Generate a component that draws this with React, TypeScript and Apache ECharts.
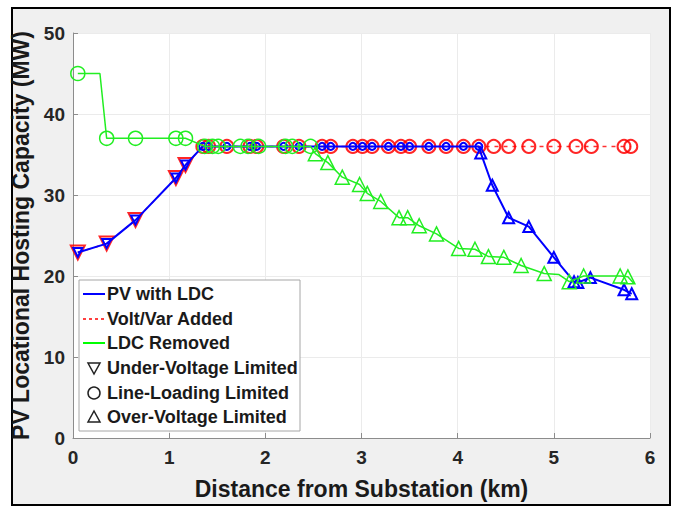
import React, { useEffect, useRef } from "react";
import * as echarts from "echarts";

// ---- Data ----
// Limit codes: U = Under-Voltage, L = Line-Loading, O = Over-Voltage, N = line vertex only
const blueX = [0.05, 0.35, 0.65, 1.07, 1.17, 1.35, 1.41, 1.60, 1.84, 1.91, 2.19, 2.35, 2.59, 2.68, 2.91, 3.01, 3.11, 3.28, 3.41, 3.50, 3.70, 3.88, 4.06, 4.22, 4.24, 4.36, 4.53, 4.74, 5.00, 5.21, 5.25, 5.38, 5.73, 5.81];
const blueY = [22.9, 24.0, 26.9, 32.1, 33.7, 36, 36, 36, 36, 36, 36, 36, 36, 36, 36, 36, 36, 36, 36, 36, 36, 36, 36, 36, 35.2, 31.2, 27.2, 26.1, 22.3, 19.3, 19.2, 19.8, 18.3, 17.8];
const blueLim = ["U", "U", "U", "U", "U", "L", "L", "L", "L", "L", "L", "L", "L", "L", "L", "L", "L", "L", "L", "L", "L", "L", "L", "L", "O", "O", "O", "O", "O", "O", "O", "O", "O", "O"];

const redX = [0.05, 0.35, 0.65, 1.07, 1.17, 1.35, 1.41, 1.60, 1.84, 1.91, 2.19, 2.35, 2.59, 2.68, 2.91, 3.01, 3.11, 3.28, 3.41, 3.50, 3.70, 3.88, 4.06, 4.22, 4.375, 4.53, 4.74, 5.00, 5.23, 5.39, 5.73, 5.80];
const redY = [22.9, 24.0, 26.9, 32.1, 33.7, 36, 36, 36, 36, 36, 36, 36, 36, 36, 36, 36, 36, 36, 36, 36, 36, 36, 36, 36, 36, 36, 36, 36, 36, 36, 36, 36];
const redLim = ["U", "U", "U", "U", "U", "L", "L", "L", "L", "L", "L", "L", "L", "L", "L", "L", "L", "L", "L", "L", "L", "L", "L", "L", "L", "L", "L", "L", "L", "L", "L", "L"];

const greenX = [0.05, 0.28, 0.35, 0.65, 1.07, 1.17, 1.37, 1.45, 1.51, 1.74, 1.82, 1.93, 2.21, 2.28, 2.47, 2.52, 2.65, 2.80, 2.98, 3.06, 3.20, 3.39, 3.48, 3.60, 3.78, 4.01, 4.18, 4.32, 4.48, 4.66, 4.90, 5.05, 5.16, 5.31, 5.69, 5.77, 5.83];
const greenY = [45, 45, 37, 37, 37, 37, 36, 36, 36, 36, 36, 36, 36, 36, 36, 35.1, 34.0, 32.2, 31.3, 30.2, 29.2, 27.2, 27.2, 26.2, 25.2, 23.4, 23.3, 22.4, 22.3, 21.3, 20.3, 20.2, 19.3, 20.0, 20.0, 19.9, 19.1];
const greenLim = ["L", "N", "L", "L", "L", "L", "L", "L", "L", "L", "L", "L", "L", "L", "L", "O", "O", "O", "O", "O", "O", "O", "O", "O", "O", "O", "O", "O", "O", "O", "O", "N", "O", "O", "O", "O", "N"];

const xTicks = [0, 1, 2, 3, 4, 5, 6];
const yTicks = [0, 10, 20, 30, 40, 50];

const legendLines = ["PV with LDC", "Volt/Var Added", "LDC Removed"];
const legendMarkers = ["Under-Voltage Limited", "Line-Loading Limited", "Over-Voltage Limited"];

const FONT = "'Liberation Sans', Arial, Helvetica, sans-serif";

function buildData(xs: number[], ys: number[], lims: string[], color: string, sizes: Record<string, number>, width: number) {
  return xs.map((x, i) => {
    const l = lims[i];
    const item: any = { value: [x, ys[i]] };
    if (l === "N") {
      item.symbol = "none";
    } else if (l === "U") {
      item.symbol = "triangle";
      item.symbolRotate = 180;
      item.symbolSize = sizes.U;
    } else if (l === "L") {
      item.symbol = "circle";
      item.symbolSize = sizes.L;
    } else {
      item.symbol = "triangle";
      item.symbolSize = sizes.O;
    }
    item.itemStyle = { color: "rgba(255,255,255,0)", borderColor: color, borderWidth: width };
    return item;
  });
}

export default function App() {
  const ref = useRef<HTMLDivElement>(null);
  useEffect(() => {
    document.body.style.margin = "0";
    if (!ref.current) return;
    const chart = echarts.init(ref.current, null, { renderer: "svg" });

    const rowY = [294, 319, 343, 368, 393, 417];
    const legendChildren: any[] = [
      { type: "rect", z: 100, shape: { x: 79, y: 280, width: 221, height: 151 }, style: { fill: "#ffffff", stroke: "#a6a6a6", lineWidth: 1 } },
      { type: "line", z: 101, shape: { x1: 83, y1: rowY[0], x2: 105, y2: rowY[0] }, style: { stroke: "#0000ff", lineWidth: 2 } },
      { type: "line", z: 101, shape: { x1: 83, y1: rowY[1], x2: 105, y2: rowY[1] }, style: { stroke: "#ff0000", lineWidth: 1.5, lineDash: [3, 3] } },
      { type: "line", z: 101, shape: { x1: 83, y1: rowY[2], x2: 105, y2: rowY[2] }, style: { stroke: "#00ff00", lineWidth: 2 } },
      { type: "polygon", z: 101, shape: { points: [[88, rowY[3] - 5], [100, rowY[3] - 5], [94, rowY[3] + 6]] }, style: { fill: "none", stroke: "#222", lineWidth: 1.5 } },
      { type: "circle", z: 101, shape: { cx: 94, cy: rowY[4], r: 6 }, style: { fill: "none", stroke: "#222", lineWidth: 1.5 } },
      { type: "polygon", z: 101, shape: { points: [[88, rowY[5] + 5], [100, rowY[5] + 5], [94, rowY[5] - 6]] }, style: { fill: "none", stroke: "#222", lineWidth: 1.5 } },
    ];
    [...legendLines, ...legendMarkers].forEach((t, i) => {
      legendChildren.push({
        type: "text",
        z: 101,
        x: 107,
        y: rowY[i],
        style: { text: t, font: `bold 18px ${FONT}`, fill: "#1a1a1a", verticalAlign: "middle", align: "left" },
      });
    });

    const option: any = {
      animation: false,
      backgroundColor: "transparent",
      grid: { left: 73, right: 27, top: 33, bottom: 70, show: true, backgroundColor: "#ffffff", borderWidth: 0 },
      xAxis: {
        type: "value",
        min: xTicks[0],
        max: xTicks[xTicks.length - 1],
        interval: 1,
        name: "Distance from Substation (km)",
        nameLocation: "middle",
        nameGap: 39,
        nameTextStyle: { fontFamily: FONT, fontWeight: "bold", fontSize: 23, color: "#1a1a1a" },
        axisLine: { show: true, lineStyle: { color: "#8c8c8c", width: 1 } },
        axisTick: { show: true, inside: true, length: 5, lineStyle: { color: "#8c8c8c" } },
        axisLabel: { fontFamily: FONT, fontWeight: "bold", fontSize: 19, color: "#262626", margin: 10 },
        splitLine: { show: true, lineStyle: { color: "#ebebeb", width: 1 } },
      },
      yAxis: {
        type: "value",
        min: yTicks[0],
        max: yTicks[yTicks.length - 1],
        interval: 10,
        name: "PV Locational Hosting Capacity (MW)",
        nameLocation: "middle",
        nameRotate: 90,
        nameGap: 36,
        nameTextStyle: { fontFamily: FONT, fontWeight: "bold", fontSize: 23, color: "#1a1a1a" },
        axisLine: { show: true, lineStyle: { color: "#8c8c8c", width: 1 } },
        axisTick: { show: true, inside: true, length: 5, lineStyle: { color: "#8c8c8c" } },
        axisLabel: { fontFamily: FONT, fontWeight: "bold", fontSize: 19, color: "#262626", margin: 8 },
        splitLine: { show: true, lineStyle: { color: "#ebebeb", width: 1 } },
      },
      series: [
        {
          name: legendLines[0],
          type: "line",
          showAllSymbol: true,
          data: buildData(blueX, blueY, blueLim, "#0000ff", { U: 9, L: 7, O: 11 }, 2),
          lineStyle: { color: "#0000ff", width: 2 },
          z: 3,
        },
        {
          name: legendLines[1],
          type: "line",
          showAllSymbol: true,
          data: buildData(redX, redY, redLim, "rgba(255,0,0,0.85)", { U: 14, L: 13 }, 2),
          lineStyle: { color: "#ff3030", width: 1.5, type: [4, 5] },
          z: 2,
        },
        {
          name: legendLines[2],
          type: "line",
          showAllSymbol: true,
          data: buildData(greenX, greenY, greenLim, "#22ee22", { L: 14, O: 14 }, 1.5),
          lineStyle: { color: "#22ee22", width: 1.5 },
          z: 4,
        },
      ],
      graphic: [{ type: "group", z: 100, children: legendChildren }],
    };
    chart.setOption(option);
    return () => chart.dispose();
  }, []);

  return (
    <div style={{ position: "relative", width: 677, height: 508, background: "#ffffff", overflow: "hidden" }}>
      <div
        style={{
          position: "absolute",
          left: 11,
          top: 7,
          width: 660,
          height: 499,
          boxSizing: "border-box",
          border: "2px solid #000",
          background: "#f0f0f0",
        }}
      />
      <div ref={ref} style={{ position: "absolute", left: 0, top: 0, width: 677, height: 508 }} />
    </div>
  );
}
